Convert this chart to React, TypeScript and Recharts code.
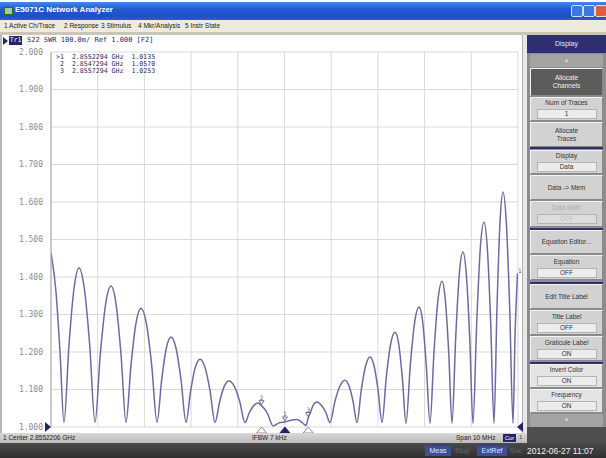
import React from 'react';
import { LineChart, Line, XAxis, YAxis, CartesianGrid, ReferenceDot } from 'recharts';

// Frequency offset from center (2.8552206 GHz), MHz
const freqOffsetMHz = [
  -5.0, -4.893, -4.807,
  -4.722, -4.615, -4.507, -4.4, -4.287, -4.171,
  -4.058, -3.944, -3.829, -3.715, -3.608, -3.501,
  -3.394, -3.287, -3.18, -3.073, -2.959, -2.844,
  -2.73, -2.63, -2.531, -2.43, -2.323, -2.216,
  -2.109, -2.009, -1.91, -1.809, -1.702, -1.595,
  -1.488, -1.388, -1.289, -1.188, -1.075, -0.959,
  -0.846, -0.754, -0.66, -0.567, -0.491, -0.364,
  -0.246, -0.118, 0.009, 0.139, 0.268, 0.375, 0.46,
  0.509, 0.546, 0.617, 0.696, 0.788, 0.882,
  0.974, 1.081, 1.188, 1.296, 1.381, 1.467,
  1.552, 1.645, 1.739, 1.831, 1.916, 2.002,
  2.088, 2.18, 2.274, 2.366, 2.445, 2.522,
  2.602, 2.694, 2.788, 2.88, 2.959, 3.036,
  3.116, 3.201, 3.287, 3.373, 3.443, 3.516,
  3.587, 3.666, 3.743, 3.822, 3.893, 3.966,
  4.036, 4.116, 4.193, 4.272, 4.343, 4.415,
  4.486, 4.55, 4.615, 4.679, 4.749, 4.822,
  4.893, 4.936, 4.99,
];

// S22 SWR values
const swrValues = [
  1.464, 1.36, 1.2,
  1.012, 1.218, 1.37, 1.424, 1.37, 1.218,
  1.012, 1.194, 1.329, 1.376, 1.329, 1.194,
  1.012, 1.165, 1.277, 1.317, 1.277, 1.165,
  1.012, 1.126, 1.21, 1.24, 1.21, 1.126,
  1.012, 1.097, 1.159, 1.181, 1.159, 1.097,
  1.012, 1.068, 1.109, 1.123, 1.109, 1.068,
  1.012, 1.038, 1.057, 1.064, 1.057, 1.036,
  1.003, 1.011, 1.0135, 1.018, 1.02, 1.012, 1.004,
  1.0253, 1.036, 1.059, 1.067, 1.058, 1.04,
  1.012, 1.069, 1.11, 1.125, 1.11, 1.069,
  1.012, 1.1, 1.164, 1.187, 1.164, 1.1,
  1.012, 1.133, 1.222, 1.253, 1.222, 1.133,
  1.01, 1.165, 1.28, 1.32, 1.28, 1.165,
  1.01, 1.2, 1.34, 1.389, 1.34, 1.2,
  1.01, 1.238, 1.408, 1.467, 1.408, 1.238,
  1.01, 1.278, 1.477, 1.547, 1.477, 1.278,
  1.01, 1.318, 1.547, 1.627, 1.547, 1.318,
  1.01, 1.24, 1.41,
];

const yTicks = [1.0, 1.1, 1.2, 1.3, 1.4, 1.5, 1.6, 1.7, 1.8, 1.9, 2.0];
const xTicks = [-5, -4, -3, -2, -1, 0, 1, 2, 3, 4, 5];

const markerIds = [1, 2, 3];
const markerOffsets = [0.0088, -0.4912, 0.5088];
const markerFreqs = ['2.8552294', '2.8547294', '2.8557294'];
const markerValues = [1.0135, 1.057, 1.0253];
const activeMarker = 1;

const menuItems = ['1 Active Ch/Trace', '2 Response', '3 Stimulus', '4 Mkr/Analysis', '5 Instr State'];

type Btn = { top: number; h: number; label: string[]; value?: string; dark?: boolean; disabled?: boolean; light?: boolean };
const softkeys: Btn[] = [
  { top: 68, h: 28, label: ['Allocate', 'Channels'], dark: true },
  { top: 97, h: 24, label: ['Num of Traces'], value: '1' },
  { top: 122, h: 25, label: ['Allocate', 'Traces'] },
  { top: 150, h: 24, label: ['Display'], value: 'Data' },
  { top: 175, h: 25, label: ['Data -> Mem'] },
  { top: 201, h: 26, label: ['Data Math'], value: 'OFF', disabled: true },
  { top: 230, h: 24, label: ['Equation Editor...'] },
  { top: 255, h: 25, label: ['Equation'], value: 'OFF' },
  { top: 284, h: 25, label: ['Edit Title Label'] },
  { top: 310, h: 25, label: ['Title Label'], value: 'OFF' },
  { top: 336, h: 25, label: ['Graticule Label'], value: 'ON' },
  { top: 364, h: 24, label: ['Invert Color'], value: 'ON', light: true },
  { top: 389, h: 24, label: ['Frequency'], value: 'ON', light: true },
];
const separators = [147, 228, 282, 362];

const TRACE = '#6a6aa6';
const NAVY = '#23236b';
const MONO = '"DejaVu Sans Mono", "Liberation Mono", monospace';
const SANS = '"Liberation Sans", Arial, sans-serif';

const BottomTriangle = (props: any) => {
  const { cx, cy, fill, stroke } = props;
  if (cx == null || cy == null) return null;
  return <polygon points={`${cx},${cy} ${cx - 5},${cy + 6} ${cx + 5},${cy + 6}`} fill={fill} stroke={stroke} strokeWidth={1} />;
};

const TraceMarker = (props: any) => {
  const { cx, cy, id } = props;
  if (cx == null || cy == null) return null;
  return (
    <g>
      <polygon points={`${cx},${cy - 1} ${cx - 2.5},${cy - 5} ${cx + 2.5},${cy - 5}`} fill="none" stroke="#555580" strokeWidth={0.8} />
      <text x={cx} y={cy - 6} fontSize={6} fontFamily={MONO} fill="#555580" textAnchor="middle">{id}</text>
    </g>
  );
};

const LeftRef = (props: any) => {
  const { cx, cy } = props;
  if (cx == null || cy == null) return null;
  return <polygon points={`${cx},${cy} ${cx - 6},${cy - 5} ${cx - 6},${cy + 5}`} fill={NAVY} />;
};
const RightRef = (props: any) => {
  const { cx, cy } = props;
  if (cx == null || cy == null) return null;
  return <polygon points={`${cx - 1},${cy} ${cx + 5},${cy - 5} ${cx + 5},${cy + 5}`} fill={NAVY} />;
};

export default function App() {
  const data = freqOffsetMHz.map((f, i) => ({ f, swr: swrValues[i] }));
  const abs = (s: React.CSSProperties): React.CSSProperties => ({ position: 'absolute', ...s });

  return (
    <div style={abs({ left: 0, top: 0, width: 606, height: 458, overflow: 'hidden', background: '#ffffff', fontFamily: SANS })}>
      {/* title bar */}
      <div style={abs({ left: 0, top: 2, width: 606, height: 18, background: 'linear-gradient(#4a86e8, #2359d0 40%, #1e4fc4 80%, #2a5cd2)' })} />
      <div style={abs({ left: 4, top: 7, width: 7, height: 6, background: '#9fd08a', border: '1px solid #2d6a2d' })} />
      <div style={abs({ left: 15, top: 5, fontSize: 8, fontWeight: 700, color: '#ffffff', whiteSpace: 'nowrap' })}>E5071C Network Analyzer</div>
      <div style={abs({ left: 571, top: 5, width: 10, height: 10, background: '#3b78e6', border: '1px solid #cfe0ff', borderRadius: 2 })} />
      <div style={abs({ left: 583, top: 5, width: 10, height: 10, background: '#3b78e6', border: '1px solid #cfe0ff', borderRadius: 2 })} />
      <div style={abs({ left: 595, top: 5, width: 10, height: 10, background: '#d9603a', border: '1px solid #ffd9c8', borderRadius: 2 })} />
      {/* menu */}
      <div style={abs({ left: 0, top: 20, width: 606, height: 12, background: '#eeebdc' })} />
      {menuItems.map((m, i) => (
        <div key={m} style={abs({ left: [4, 64, 101, 138, 185][i], top: 22, fontSize: 6.5, color: '#222', whiteSpace: 'nowrap' })}>{m}</div>
      ))}
      <div style={abs({ left: 0, top: 32, width: 606, height: 3, background: '#c9c6b8' })} />
      {/* channel window frame */}
      <div style={abs({ left: 0, top: 35, width: 2, height: 398, background: '#b8b8b8' })} />
      <div style={abs({ left: 522, top: 35, width: 5, height: 398, background: '#e8e8e8', borderLeft: '1px solid #b0b0b0' })} />
      {/* header row */}
      <div style={abs({ left: 3, top: 37, width: 0, height: 0, borderTop: '4px solid transparent', borderBottom: '4px solid transparent', borderLeft: `5px solid ${NAVY}` })} />
      <div style={abs({ left: 9, top: 36, width: 13, height: 9, background: NAVY, color: '#fff', fontSize: 6.5, fontFamily: MONO, lineHeight: '9px', textAlign: 'center' })}>Tr1</div>
      <div style={abs({ left: 27, top: 36, fontSize: 7, fontFamily: MONO, color: '#2a2a6a', whiteSpace: 'pre', lineHeight: '9px' })}>S22 SWR 100.0m/ Ref 1.000 [F2]</div>

      {/* chart */}
      <div style={abs({ left: 0, top: 0 })}>
        <LineChart width={527} height={458} data={data} margin={{ top: 52, right: 9, bottom: 31, left: 0 }}>
          <CartesianGrid stroke="#d9d9d9" strokeWidth={1} />
          <XAxis type="number" dataKey="f" domain={[-5, 5]} ticks={xTicks} hide allowDataOverflow />
          <YAxis
            type="number"
            domain={[1, 2]}
            ticks={yTicks}
            width={51}
            tickLine={false}
            axisLine={{ stroke: '#a8a8a8' }}
            tickFormatter={(v: number) => v.toFixed(3)}
            tick={{ fontSize: 8, fontFamily: MONO, fill: '#8c8c8c' }}
            allowDataOverflow
          />
          <Line type="monotone" dataKey="swr" stroke={TRACE} strokeWidth={1.5} dot={false} isAnimationActive={false} />
          {markerIds.map((id, i) => (
            <ReferenceDot key={'t' + id} x={markerOffsets[i]} y={markerValues[i]} ifOverflow="visible"
              shape={(p: any) => <TraceMarker {...p} id={id} />} />
          ))}
          {markerIds.map((id, i) => (
            <ReferenceDot key={'b' + id} x={markerOffsets[i]} y={1} ifOverflow="visible"
              shape={(p: any) => <BottomTriangle {...p} fill={id === activeMarker ? NAVY : '#ffffff'} stroke={id === activeMarker ? NAVY : '#8a8a8a'} />} />
          ))}
          <ReferenceDot x={-5} y={1} ifOverflow="visible" shape={(p: any) => <LeftRef {...p} />} />
          <ReferenceDot x={5} y={1} ifOverflow="visible" shape={(p: any) => <RightRef {...p} />} />
        </LineChart>
      </div>

      {/* marker readout */}
      {markerIds.map((id, i) => (
        <div key={'r' + id} style={abs({ left: 56, top: 54 + i * 7, fontSize: 6.6, fontFamily: MONO, color: '#2a2a6a', whiteSpace: 'pre', lineHeight: '7px' })}>
          {(id === activeMarker ? '>' : ' ') + id + '  ' + markerFreqs[i] + ' GHz  ' + markerValues[i].toFixed(4)}
        </div>
      ))}
      <div style={abs({ left: 518, top: 267, fontSize: 6, fontFamily: MONO, color: '#555580' })}>1</div>

      {/* status bar */}
      <div style={abs({ left: 0, top: 433, width: 527, height: 10, background: 'linear-gradient(#d8d8d8, #bcbcbc)' })} />
      <div style={abs({ left: 3, top: 434, fontSize: 6.5, color: '#222', whiteSpace: 'nowrap' })}>1  Center 2.8552206 GHz</div>
      <div style={abs({ left: 252, top: 434, fontSize: 6.5, color: '#222', whiteSpace: 'nowrap' })}>IFBW 7 kHz</div>
      <div style={abs({ left: 456, top: 434, fontSize: 6.5, color: '#222', whiteSpace: 'nowrap' })}>Span 10 MHz</div>
      <div style={abs({ left: 503, top: 434, width: 13, height: 8, background: NAVY, color: '#fff', fontSize: 6, textAlign: 'center', lineHeight: '8px' })}>Cor</div>
      <div style={abs({ left: 519, top: 434, fontSize: 6, color: '#444' })}>1</div>

      {/* bottom bar */}
      <div style={abs({ left: 0, top: 443, width: 606, height: 15, background: 'linear-gradient(#4a4a4a, #303030)' })} />
      <div style={abs({ left: 425, top: 446, width: 26, height: 10, background: '#3a4f9a', color: '#dfe6ff', fontSize: 7, textAlign: 'center', lineHeight: '10px' })}>Meas</div>
      <div style={abs({ left: 455, top: 446, fontSize: 7, color: '#6a6a6a', lineHeight: '10px' })}>Stop</div>
      <div style={abs({ left: 477, top: 446, width: 30, height: 10, background: '#3a4f9a', color: '#dfe6ff', fontSize: 7, textAlign: 'center', lineHeight: '10px' })}>ExtRef</div>
      <div style={abs({ left: 510, top: 446, fontSize: 7, color: '#6a6a6a', lineHeight: '10px' })}>Svc</div>
      <div style={abs({ left: 527, top: 445, fontSize: 8.5, color: '#f0f0f0', whiteSpace: 'nowrap', lineHeight: '12px' })}>2012-06-27 11:07</div>

      {/* right softkey panel */}
      <div style={abs({ left: 527, top: 35, width: 79, height: 408, background: '#8c8c8c' })} />
      <div style={abs({ left: 527, top: 35, width: 79, height: 18, background: '#2e2e70', color: '#e8e8ff', fontSize: 7, textAlign: 'center', lineHeight: '18px' })}>Display</div>
      <div style={abs({ left: 530, top: 54, width: 73, height: 13, background: '#a3a3a3', color: '#d8d8d8', fontSize: 6, textAlign: 'center', lineHeight: '13px' })}>▲</div>
      {softkeys.map((b) => (
        <div key={b.label.join(' ')} style={abs({
          left: 530, top: b.top, width: 73, height: b.h, boxSizing: 'border-box',
          background: b.dark ? '#5c5c5c' : b.light ? '#e4e4e4' : '#d2d2d2',
          borderTop: '1px solid #f4f4f4', borderLeft: '1px solid #f4f4f4', borderBottom: '1px solid #888', borderRight: '1px solid #888',
          color: b.dark ? '#f2f2f2' : b.disabled ? '#b0b0b0' : '#333', fontSize: 6.5, textAlign: 'center',
          display: 'flex', flexDirection: 'column', justifyContent: 'center', alignItems: 'center', lineHeight: '8px',
        })}>
          {b.label.map((l) => <div key={l} style={{ whiteSpace: 'nowrap' }}>{l}</div>)}
          {b.value !== undefined && (
            <div style={{ marginTop: 2, width: 58, height: 8, background: b.disabled ? '#dcdcdc' : '#ececec', border: '1px solid #b4b4b4', lineHeight: '8px', color: b.disabled ? '#c0c0c0' : '#333' }}>{b.value}</div>
          )}
        </div>
      ))}
      {separators.map((s) => (
        <div key={s} style={abs({ left: 530, top: s, width: 73, height: 2, background: '#2e2e70' })} />
      ))}
      <div style={abs({ left: 530, top: 414, width: 73, height: 13, background: '#a3a3a3', color: '#d8d8d8', fontSize: 6, textAlign: 'center', lineHeight: '13px' })}>▼</div>
      <div style={abs({ left: 527, top: 427, width: 79, height: 16, background: '#4e4e4e' })} />
    </div>
  );
}
